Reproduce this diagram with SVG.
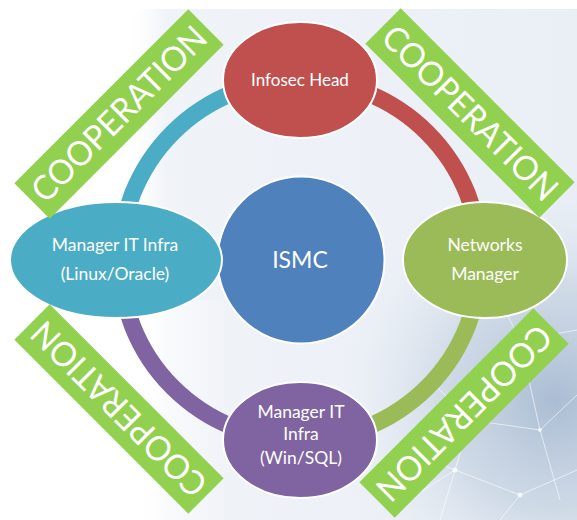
<svg xmlns="http://www.w3.org/2000/svg" width="577" height="520" viewBox="0 0 577 520">
  <defs>
    <linearGradient id="bgFade" x1="130" y1="0" x2="577" y2="0" gradientUnits="userSpaceOnUse">
      <stop offset="0" stop-color="#ffffff" stop-opacity="0.3"/>
      <stop offset="0.08" stop-color="#f0f3f8" stop-opacity="1"/>
      <stop offset="1" stop-color="#eaeff6" stop-opacity="1"/>
    </linearGradient>
    <radialGradient id="bgTech" cx="555" cy="400" r="220" gradientUnits="userSpaceOnUse">
      <stop offset="0" stop-color="#a3b7cf" stop-opacity="0.9"/>
      <stop offset="0.5" stop-color="#bccbdc" stop-opacity="0.6"/>
      <stop offset="1" stop-color="#e3eaf2" stop-opacity="0"/>
    </radialGradient>
    <linearGradient id="bgBottomLeft" x1="130" y1="0" x2="230" y2="0" gradientUnits="userSpaceOnUse">
      <stop offset="0" stop-color="#ffffff" stop-opacity="1"/>
      <stop offset="1" stop-color="#ffffff" stop-opacity="0"/>
    </linearGradient>
    <style>
      .arc { fill: none; stroke-width: 17; }
      .node { stroke: #ffffff; stroke-width: 2; }
      .lbl { font-family: Lato, "Open Sans", "Liberation Sans", sans-serif; fill: #ffffff; text-anchor: middle; font-size: 17.5px; }
      .band { fill: #92d050; }
      .bandtxt { font-family: Lato, "Open Sans", "Liberation Sans", sans-serif; fill: #ffffff; text-anchor: middle; font-size: 34px; }
      .net { stroke: #ffffff; stroke-opacity: 0.6; stroke-width: 1; fill: none; }
    </style>
  </defs>

  <rect x="0" y="0" width="577" height="520" fill="#ffffff"/>
  <g id="background">
    <rect x="130" y="9" width="447" height="511" fill="url(#bgFade)"/>
    <rect x="130" y="9" width="447" height="511" fill="url(#bgTech)"/>
    <rect x="130" y="300" width="100" height="220" fill="url(#bgBottomLeft)"/>
    <path class="net" d="M400,505 L455,470 L520,495 L577,470 M455,470 L470,420 L540,430 L577,395 M470,420 L430,380 M540,430 L560,500 M520,495 L500,520 M430,460 L455,470 L440,520 M540,430 L520,340 L577,330 M520,340 L500,300"/>
    <circle cx="455" cy="470" r="2.5" fill="#ffffff" fill-opacity="0.7"/>
    <circle cx="520" cy="495" r="2.5" fill="#ffffff" fill-opacity="0.7"/>
    <circle cx="540" cy="430" r="2" fill="#ffffff" fill-opacity="0.7"/>
    <circle cx="470" cy="420" r="2" fill="#ffffff" fill-opacity="0.7"/>
    <circle cx="520" cy="340" r="2" fill="#ffffff" fill-opacity="0.7"/>
  </g>

  <g id="connectors">
    <path class="arc" stroke="#4bacc6" d="M120,260 A180,180 0 0 1 300,80"/>
    <path class="arc" stroke="#c0504d" d="M300,80 A180,180 0 0 1 480,260"/>
    <path class="arc" stroke="#9bbb59" d="M480,260 A180,180 0 0 1 300,440"/>
    <path class="arc" stroke="#8064a2" d="M300,440 A180,180 0 0 1 120,260"/>
  </g>

  <g id="ismc">
    <circle class="node" cx="301" cy="260" r="83.5" fill="#4f81bd"/>
    <text class="lbl" x="300" y="268" style="font-size:23px">ISMC</text>
  </g>

  <g id="infosec-head">
    <ellipse class="node" cx="300" cy="80" rx="77" ry="58" fill="#c0504d"/>
    <text class="lbl" x="300" y="86" style="font-size:17px">Infosec Head</text>
  </g>

  <g id="manager-linux">
    <ellipse class="node" cx="116" cy="260" rx="106" ry="58" fill="#4bacc6"/>
    <text class="lbl" x="115" y="251">Manager IT Infra</text>
    <text class="lbl" x="115" y="280">(Linux/Oracle)</text>
  </g>

  <g id="networks-manager">
    <ellipse class="node" cx="485" cy="260" rx="82" ry="58" fill="#9bbb59"/>
    <text class="lbl" x="485" y="251">Networks</text>
    <text class="lbl" x="485" y="280">Manager</text>
  </g>

  <g id="manager-win">
    <ellipse class="node" cx="300" cy="440" rx="77" ry="58" fill="#8064a2"/>
    <text class="lbl" x="301" y="418">Manager IT</text>
    <text class="lbl" x="301" y="440">Infra</text>
    <text class="lbl" x="301" y="464">(Win/SQL)</text>
  </g>

  <g id="coop-top-left" transform="translate(119,114) rotate(-45)">
    <rect class="band" x="-123" y="-25" width="246" height="50"/>
    <text class="bandtxt" x="0" y="12" textLength="232" lengthAdjust="spacingAndGlyphs">COOPERATION</text>
  </g>
  <g id="coop-top-right" transform="translate(470,113) rotate(45)">
    <rect class="band" x="-123" y="-25" width="246" height="50"/>
    <text class="bandtxt" x="0" y="12" textLength="232" lengthAdjust="spacingAndGlyphs">COOPERATION</text>
  </g>
  <g id="coop-bottom-left" transform="translate(119,409) rotate(-135)">
    <rect class="band" x="-123" y="-25" width="246" height="50"/>
    <text class="bandtxt" x="0" y="12" textLength="232" lengthAdjust="spacingAndGlyphs">COOPERATION</text>
  </g>
  <g id="coop-bottom-right" transform="translate(464,413) rotate(135)">
    <rect class="band" x="-123" y="-25" width="246" height="50"/>
    <text class="bandtxt" x="0" y="12" textLength="232" lengthAdjust="spacingAndGlyphs">COOPERATION</text>
  </g>
</svg>
